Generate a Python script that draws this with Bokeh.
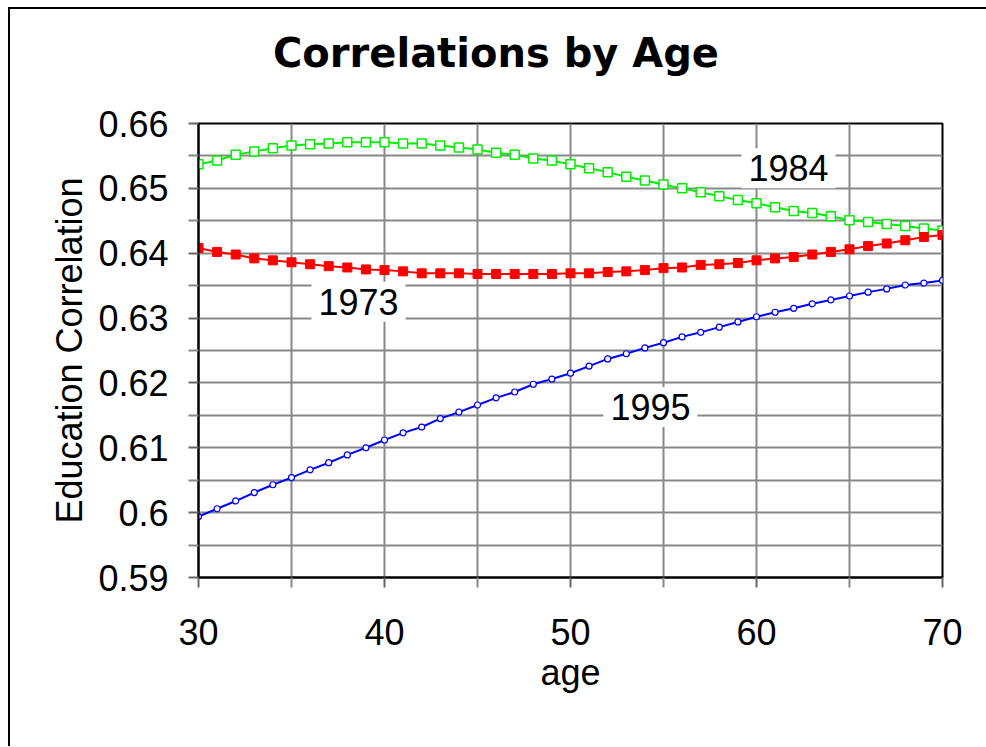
from bokeh.plotting import figure
from bokeh.layouts import column
from bokeh.models import FixedTicker, Label, CustomJSTickFormatter, Div
from bokeh.embed import file_html
from bokeh.resources import INLINE

ages = list(range(30, 71))
y1984 = [0.6537, 0.6543, 0.6552, 0.6557, 0.6562, 0.6566, 0.6568, 0.6569, 0.6571, 0.6571,
         0.6571, 0.6569, 0.6569, 0.6566, 0.6563, 0.6560, 0.6555, 0.6552, 0.6546, 0.6543,
         0.6537, 0.6531, 0.6525, 0.6518, 0.6512, 0.6506, 0.6500, 0.6494, 0.6488, 0.6482,
         0.6477, 0.6471, 0.6465, 0.6462, 0.6457, 0.6451, 0.6448, 0.6445, 0.6442, 0.6438,
         0.6435]
y1973 = [0.6408, 0.6402, 0.6398, 0.6392, 0.6389, 0.6386, 0.6383, 0.6380, 0.6378, 0.6375,
         0.6374, 0.6372, 0.6369, 0.6369, 0.6369, 0.6368, 0.6368, 0.6368, 0.6368, 0.6368,
         0.6369, 0.6369, 0.6371, 0.6372, 0.6374, 0.6377, 0.6378, 0.6382, 0.6383, 0.6385,
         0.6389, 0.6392, 0.6394, 0.6398, 0.6402, 0.6406, 0.6411, 0.6415, 0.6420, 0.6425,
         0.6428]
y1995 = [0.5994, 0.6006, 0.6018, 0.6031, 0.6043, 0.6054, 0.6066, 0.6077, 0.6089, 0.6100,
         0.6112, 0.6123, 0.6132, 0.6145, 0.6155, 0.6166, 0.6177, 0.6186, 0.6198, 0.6206,
         0.6215, 0.6226, 0.6237, 0.6245, 0.6254, 0.6262, 0.6271, 0.6278, 0.6286, 0.6294,
         0.6302, 0.6309, 0.6315, 0.6322, 0.6328, 0.6334, 0.6340, 0.6345, 0.6351, 0.6354,
         0.6358]

x_ticks = [30, 40, 50, 60, 70]
x_minor = [35, 45, 55, 65]
y_ticks = [0.59, 0.60, 0.61, 0.62, 0.63, 0.64, 0.65, 0.66]
y_minor = [0.595, 0.605, 0.615, 0.625, 0.635, 0.645, 0.655]

series_labels = ["1984", "1973", "1995"]
label_pos = [(61.72, 0.6531), (38.6, 0.6325), (54.3, 0.6163)]
title_text = "Correlations by Age"

FONT = "Liberation Sans"
TITLE_H = 80

title_div = Div(
    text=('<div style="margin:0; padding:21px 0 0 263px; font-family:\'DejaVu Sans\'; '
          'font-weight:bold; font-size:40px; line-height:47px; white-space:nowrap; '
          'color:black;">' + title_text + '</div>'),
    width=976, height=TITLE_H, margin=0)

p = figure(width=976, height=737 - TITLE_H, x_range=(30, 70), y_range=(0.59, 0.66),
           output_backend="svg", toolbar_location=None,
           min_border_left=188, min_border_right=44,
           min_border_top=114 - TITLE_H, min_border_bottom=169)
p.background_fill_color = "white"
p.border_fill_color = "white"
p.outline_line_color = "black"
p.outline_line_width = 2

xt = FixedTicker(ticks=x_ticks, minor_ticks=x_minor)
yt = FixedTicker(ticks=y_ticks, minor_ticks=y_minor)
p.xaxis.ticker = xt
p.yaxis.ticker = yt
p.xgrid.ticker = xt
p.ygrid.ticker = yt
p.yaxis.formatter = CustomJSTickFormatter(code="return tick.toFixed(2).replace(/0$/, '');")

for g in (p.xgrid, p.ygrid):
    g.grid_line_color = "#888888"
    g.grid_line_width = 2
    g.minor_grid_line_color = "#888888"
    g.minor_grid_line_width = 2

for ax in (p.xaxis, p.yaxis):
    ax.axis_line_color = "black"
    ax.axis_line_width = 2
    ax.major_tick_in = 0
    ax.major_tick_out = 10
    ax.minor_tick_in = 0
    ax.minor_tick_out = 10
    ax.major_tick_line_color = "#666666"
    ax.major_tick_line_width = 2
    ax.minor_tick_line_color = "#888888"
    ax.minor_tick_line_width = 2
    ax.major_label_text_font = FONT
    ax.major_label_text_font_size = "36px"
    ax.major_label_text_color = "black"
    ax.axis_label_text_font = FONT
    ax.axis_label_text_font_size = "36px"
    ax.axis_label_text_font_style = "normal"
    ax.axis_label_text_color = "black"

p.xaxis.axis_label = "age"
p.yaxis.axis_label = "Education Correlation"
p.xaxis.major_label_standoff = 31
p.yaxis.major_label_standoff = 20
p.xaxis.axis_label_standoff = 4
p.yaxis.axis_label_standoff = 5

# 1984 green hollow squares
p.line(ages, y1984, line_color="#00ee00", line_width=2)
p.scatter(ages, y1984, marker="square", size=9, line_color="#00ee00",
          fill_color="white", line_width=1.5)
# 1973 red filled squares
p.line(ages, y1973, line_color="#ff0000", line_width=2)
p.scatter(ages, y1973, marker="square", size=9, line_color="#ff0000",
          fill_color="#ff0000")
# 1995 blue small circles
p.line(ages, y1995, line_color="#0000ff", line_width=2)
p.scatter(ages, y1995, marker="circle", size=6, line_color="#0000ff",
          fill_color="white", line_width=1.2)

for txt, (lx, ly) in zip(series_labels, label_pos):
    p.add_layout(Label(x=lx, y=ly, text=txt, text_font=FONT, text_font_size="36px",
                       text_color="black", text_align="center", text_baseline="middle",
                       background_fill_color="white", padding=7))

layout = column(title_div, p, spacing=0)
layout.styles = {"margin-left": "8px", "margin-top": "7px", "background": "white",
                 "border-top": "2px solid black", "border-left": "2px solid black"}

open("out.html", "w").write(file_html(layout, INLINE))
